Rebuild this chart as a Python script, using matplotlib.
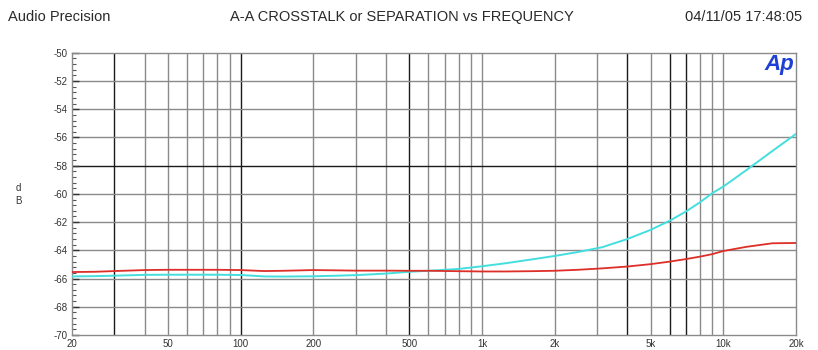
import matplotlib
matplotlib.use("Agg")
import matplotlib.pyplot as plt
from matplotlib.ticker import FixedLocator, NullFormatter

plt.rcParams['font.family'] = ['Liberation Sans', 'DejaVu Sans']

# Measured crosstalk, channel A -> A (dB) vs frequency (Hz)
freq_hz = [20, 25, 30, 40, 50, 60, 80, 100, 125, 150, 200, 250, 300, 400, 500,
           600, 800, 1000, 1250, 1600, 2000, 2500, 3150, 4000, 5000, 6000, 7000,
           8000, 9000, 10000, 12500, 16000, 20000]
red_db = [-65.54, -65.52, -65.47, -65.40, -65.38, -65.38, -65.38, -65.40, -65.47,
          -65.45, -65.40, -65.42, -65.44, -65.44, -65.45, -65.45, -65.48, -65.50,
          -65.50, -65.48, -65.45, -65.38, -65.28, -65.15, -64.98, -64.80, -64.62,
          -64.45, -64.27, -64.05, -63.75, -63.50, -63.48]
cyan_db = [-65.85, -65.83, -65.80, -65.74, -65.73, -65.73, -65.73, -65.75, -65.85,
           -65.86, -65.84, -65.80, -65.76, -65.65, -65.52, -65.45, -65.32, -65.13,
           -64.92, -64.65, -64.40, -64.12, -63.78, -63.20, -62.55, -61.90, -61.25,
           -60.60, -59.95, -59.48, -58.30, -56.95, -55.75]

x_ticks = [20, 50, 100, 200, 500, 1000, 2000, 5000, 10000, 20000]
x_tick_labels = ['20', '50', '100', '200', '500', '1k', '2k', '5k', '10k', '20k']
y_ticks = [-50, -52, -54, -56, -58, -60, -62, -64, -66, -68, -70]
x_grid = [30, 40, 50, 60, 70, 80, 90, 100, 200, 300, 400, 500, 600, 700, 800, 900,
          1000, 2000, 3000, 4000, 5000, 6000, 7000, 8000, 9000, 10000]
x_grid_dark = [30, 100, 500, 4000, 6000, 7000]
y_grid_dark = [-58]

fig = plt.figure(figsize=(8.18, 3.5), dpi=100)
ax = fig.add_axes([0.088, 0.043, 0.885, 0.806])

ax.set_xscale('log')
ax.set_xlim(20, 20000)
ax.set_ylim(-70, -50)

grey = '#8a8a8a'
dark = '#1a1a1a'
for f in x_grid:
    ax.axvline(f, color=dark if f in x_grid_dark else grey, lw=1.0, zorder=1)
for v in y_ticks[1:-1]:
    ax.axhline(v, color=dark if v in y_grid_dark else grey, lw=1.0, zorder=1)

ax.plot(freq_hz, cyan_db, color='#45dede', lw=1.4, zorder=3)
ax.plot(freq_hz, red_db, color='#dd2e28', lw=1.3, zorder=4)

for s in ax.spines.values():
    s.set_color(grey)
    s.set_linewidth(1.0)

ax.xaxis.set_major_locator(FixedLocator(x_ticks))
ax.xaxis.set_minor_locator(FixedLocator([]))
ax.set_xticklabels(x_tick_labels)
ax.xaxis.set_minor_formatter(NullFormatter())
ax.tick_params(axis='x', which='both', length=0, pad=3, labelsize=7, colors='#333333')

ax.yaxis.set_major_locator(FixedLocator(y_ticks))
minor_y = [-70 + 0.4 * i for i in range(51)]
ax.yaxis.set_minor_locator(FixedLocator(minor_y))
ax.set_yticklabels([str(v) for v in y_ticks])
ax.tick_params(axis='y', which='major', direction='in', length=5, width=1.0,
               color='#333333', labelsize=7, pad=3, labelcolor='#333333')
ax.tick_params(axis='y', which='minor', direction='in', length=3, width=0.8,
               color='#555555')

fig.text(0.022, 0.445, 'd\nB', fontsize=7, color='#333333', ha='center',
         va='center', linespacing=1.35)

ax.text(0.997, 0.995, 'Ap', transform=ax.transAxes, ha='right', va='top',
        fontsize=16, fontweight='bold', fontstyle='italic', color='#1d3fd6')

fig.text(0.010, 0.951, 'Audio Precision', fontsize=10.5, color='#2a2a2a',
         ha='left', va='center')
fig.text(0.491, 0.951, 'A-A CROSSTALK or SEPARATION vs FREQUENCY', fontsize=10.5,
         color='#2a2a2a', ha='center', va='center')
fig.text(0.838, 0.951, '04/11/05 17:48:05', fontsize=10.5, color='#2a2a2a',
         ha='left', va='center')

fig.savefig('out.png', dpi=100, facecolor='white')
